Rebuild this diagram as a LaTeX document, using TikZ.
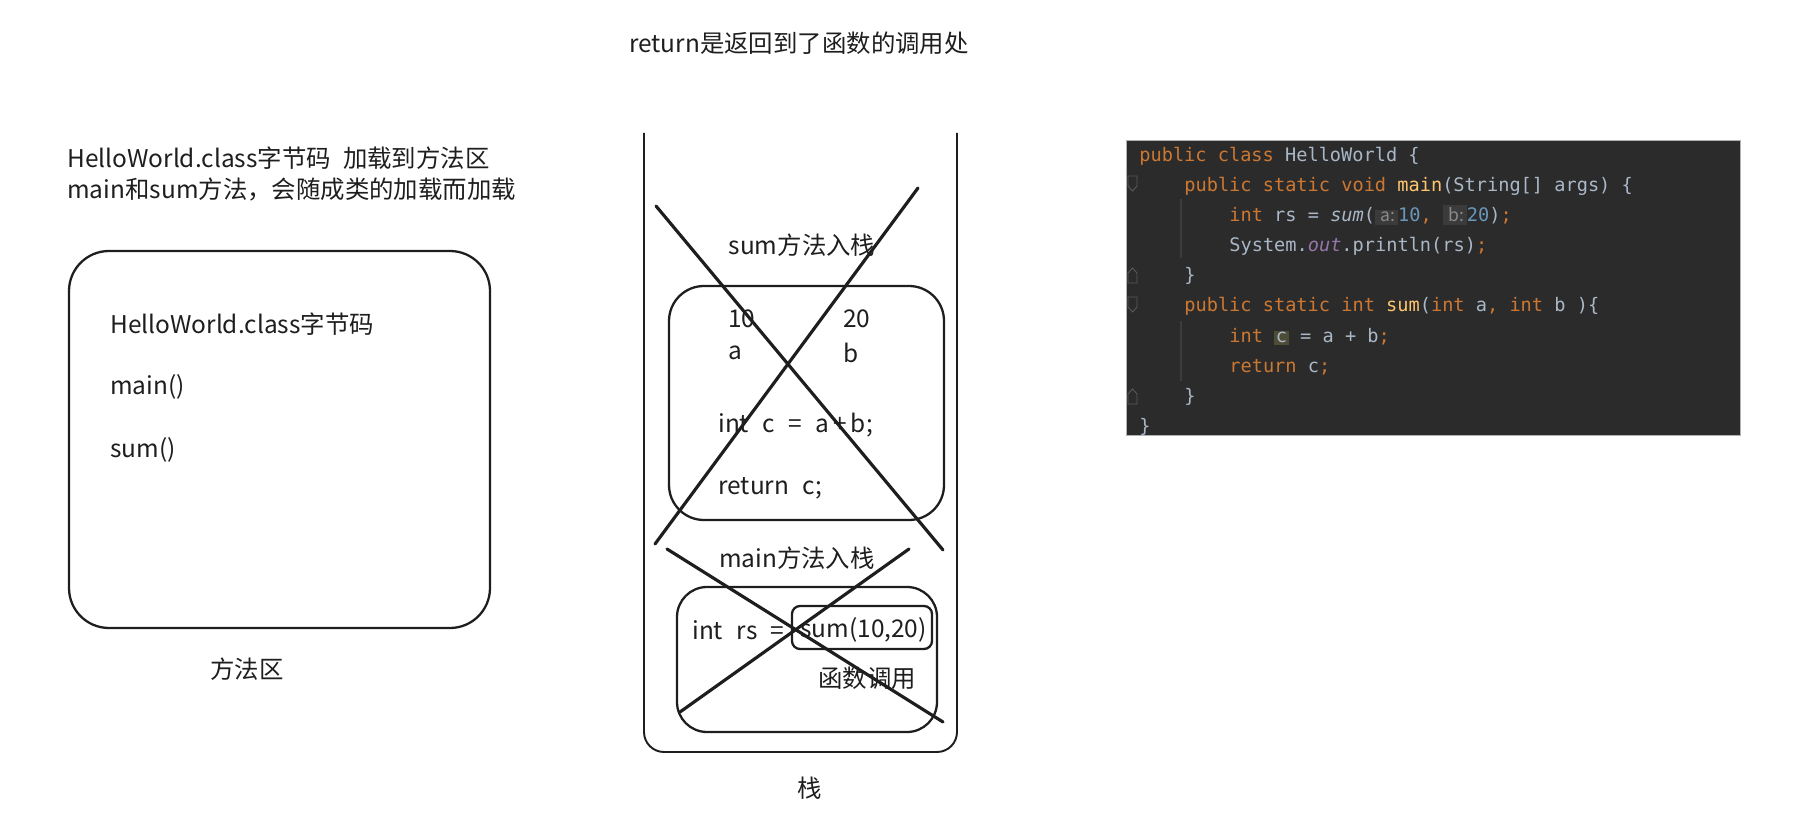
\documentclass[tikz,border=0pt]{standalone}
\usepackage{fontspec}
\setmainfont{Noto Sans CJK SC}
\setmonofont{DejaVu Sans Mono}
\usetikzlibrary{positioning}
\definecolor{ink}{HTML}{1E1E1E}
\definecolor{codebg}{HTML}{2B2B2B}
\definecolor{codefg}{HTML}{A9B7C6}
\definecolor{kwc}{HTML}{CC7832}
\definecolor{fnc}{HTML}{FFC66D}
\definecolor{numc}{HTML}{6897BB}
\definecolor{fldc}{HTML}{9876AA}
\definecolor{hintbg}{HTML}{3B3B3B}
\definecolor{hintfg}{HTML}{8A8A8A}
\definecolor{hlbg}{HTML}{4E4C36}
\definecolor{guide}{HTML}{3C3C3C}
\definecolor{foldc}{HTML}{5A5A5A}
\newcommand\jkw[1]{\textcolor{kwc}{#1}}
\newcommand\jfn[1]{\textcolor{fnc}{#1}}
\newcommand\jnum[1]{\textcolor{numc}{#1}}
\newcommand\jhint[1]{{\fboxsep=1.5pt\colorbox{hintbg}{\textcolor{hintfg}{\rmfamily\fontsize{10pt}{11pt}\selectfont\,#1}}}}
\newcommand\jhl[1]{{\fboxsep=1pt\colorbox{hlbg}{#1}}}
\newcommand\widesp{\spaceskip=0.55em\relax}

\begin{document}
\begin{tikzpicture}[x=0.02cm,y=-0.02cm,
  hand/.style={text=ink,inner sep=0pt,font=\fontsize{13.9pt}{16pt}\selectfont},
  frame/.style={draw=ink,line width=1.3pt},
  cross/.style={draw=ink,line width=1.8pt,line cap=round},
  code/.style={text=codefg,inner sep=0pt,anchor=base west,font=\ttfamily\fontsize{10.6pt}{12pt}\selectfont}]
\useasboundingbox (0,0) rectangle (1815,830);
\node[hand] (title) at (799,43) {return是返回到了函数的调用处};

% method area
\node[hand,anchor=west,align=left,font=\fontsize{13.9pt}{17.6pt}\selectfont] (loadnote) at (67,174)
  {HelloWorld.class字节码\hspace{0.5em}加载到方法区\\main和sum方法，会随成类的加载而加载};
\draw[frame,rounded corners=0.8cm] (69,251) rectangle (490,628);
\node[hand,anchor=west] (bytecode) at (110,324) {HelloWorld.class字节码};
\node[hand,anchor=west] (mainsig) at (110,387) {main()};
\node[hand,anchor=west] (sumsig) at (110,450) {sum()};
\node[hand] (arealabel) at (247,669) {方法区};

% stack
\draw[frame,line width=1.1pt,rounded corners=0.4cm] (644,133) -- (644,752) -- (957,752) -- (957,133);
\node[hand] (stacklabel) at (810,788) {栈};

% sum frame
\node[hand] (sumpush) at (802,245) {sum方法入栈};
\draw[frame,rounded corners=0.7cm] (669,286) rectangle (944,520);
\node[hand,anchor=west] (ten) at (728,319) {10};
\node[hand,anchor=west] (twenty) at (843,319) {20};
\node[hand,anchor=west] (vara) at (728,353) {a};
\node[hand,anchor=west] (varb) at (843,353) {b};
\node[hand,anchor=west] (addline) at (718,425) {\widesp int c = a\,+\,b;};
\node[hand,anchor=west] (retline) at (718,488) {\widesp return c;};
\coordinate (s1) at (656,206);
\coordinate (s2) at (943,550);
\coordinate (s3) at (918,188);
\coordinate (s4) at (655,544);
\draw[cross] (s1) -- (s2);
\draw[cross] (s3) -- (s4);

% main frame
\node[hand] (mainpush) at (797,558) {main方法入栈};
\draw[frame,rounded corners=0.6cm] (677,587) rectangle (937,732);
\node[hand,anchor=west] (rsline) at (692,630) {\widesp int rs =};
\draw[frame,rounded corners=0.16cm] (792,606) rectangle (932,649);
\node[hand,anchor=west] (sumcall) at (800,630) {sum(10,20)};
\node[hand] (callnote) at (867,678) {函数调用};
\coordinate (m1) at (667,549);
\coordinate (m2) at (943,722);
\coordinate (m3) at (909,549);
\coordinate (m4) at (680,712);
\draw[cross] (m1) -- (m2);
\draw[cross] (m3) -- (m4);

% code panel
\draw[fill=codebg,draw=gray!60] (1126,140) rectangle (1740,435);
\draw[guide,line width=0.6pt] (1181,199) -- (1181,258);
\draw[guide,line width=0.6pt] (1181,321) -- (1181,381);
\foreach \y in {176,297}
  \draw[foldc,line width=0.5pt] (1128,\y) -- (1137,\y) -- (1137,\y+10) -- (1132.5,\y+15) -- (1128,\y+10) -- cycle;
\foreach \y in {283,404}
  \draw[foldc,line width=0.5pt] (1128,\y) -- (1137,\y) -- (1137,\y-10) -- (1132.5,\y-15) -- (1128,\y-10) -- cycle;
\node[code] (code1) at (1139,162) {\jkw{public class} HelloWorld \{};
\node[code] (code2) at (1184,192) {\jkw{public static void} \jfn{main}(String[] args) \{};
\node[code] (code3) at (1229,222) {\jkw{int} rs = \textit{sum}(\jhint{a:}\jnum{10}\jkw{,} \jhint{b:}\jnum{20})\jkw{;}};
\node[code] (code4) at (1229,252) {System.\textcolor{fldc}{\textit{out}}.println(rs)\jkw{;}};
\node[code] (code5) at (1184,282) {\}};
\node[code] (code6) at (1184,312) {\jkw{public static int} \jfn{sum}(\jkw{int} a\jkw{,} \jkw{int} b )\{};
\node[code] (code7) at (1229,343) {\jkw{int} \jhl{c} = a + b\jkw{;}};
\node[code] (code8) at (1229,373) {\jkw{return} c\jkw{;}};
\node[code] (code9) at (1184,403) {\}};
\node[code] (code10) at (1139,433) {\}};
\end{tikzpicture}
\end{document}
